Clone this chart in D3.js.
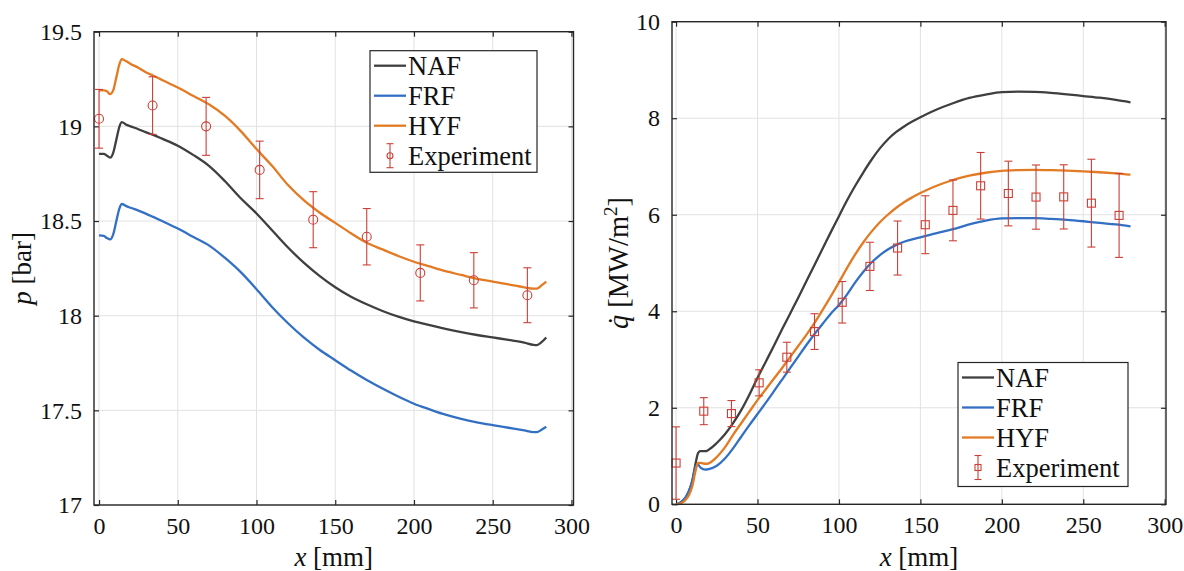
<!DOCTYPE html>
<html>
<head>
<meta charset="utf-8">
<script src="https://cdn.jsdelivr.net/npm/d3@7"></script>
<style>
  html, body { margin: 0; padding: 0; background: #fff; }
  svg { display: block; }
</style>
</head>
<body>
<svg id="chart" width="1184" height="571"></svg>
<script>
// ---------------- DATA ----------------
const xTicks = [0, 50, 100, 150, 200, 250, 300];
const pTicks = [17, 17.5, 18, 18.5, 19, 19.5];
const qTicks = [0, 2, 4, 6, 8, 10];
const seriesNames = ["NAF", "FRF", "HYF"];
const expName = "Experiment";

// Left panel: pressure p [bar]
const pX   = [0, 3, 5, 7, 9, 11, 13, 14.5, 17, 20, 25, 30, 34, 40, 50, 60, 70, 80, 90, 100, 110, 120, 130, 140, 150, 160, 170, 180, 190, 200, 210, 220, 230, 240, 250, 260, 270, 276, 278, 281, 284];
const pNAF = [18.855, 18.855, 18.845, 18.835, 18.86, 18.93, 19.0, 19.022, 19.01, 19.0, 18.985, 18.968, 18.956, 18.935, 18.898, 18.848, 18.79, 18.71, 18.62, 18.54, 18.45, 18.36, 18.28, 18.21, 18.15, 18.1, 18.06, 18.025, 17.995, 17.97, 17.95, 17.93, 17.913, 17.898, 17.885, 17.872, 17.858, 17.846, 17.845, 17.86, 17.885];
const pFRF = [18.424, 18.422, 18.41, 18.403, 18.43, 18.5, 18.568, 18.59, 18.58, 18.57, 18.555, 18.538, 18.523, 18.5, 18.46, 18.415, 18.37, 18.305, 18.23, 18.14, 18.045, 17.96, 17.885, 17.82, 17.765, 17.71, 17.66, 17.615, 17.573, 17.535, 17.505, 17.477, 17.455, 17.437, 17.422, 17.408, 17.394, 17.385, 17.385, 17.397, 17.413];
const pHYF = [19.19, 19.19, 19.185, 19.17, 19.19, 19.26, 19.33, 19.355, 19.345, 19.33, 19.31, 19.285, 19.27, 19.245, 19.205, 19.16, 19.115, 19.055, 18.975, 18.88, 18.79, 18.69, 18.61, 18.545, 18.49, 18.435, 18.385, 18.35, 18.315, 18.285, 18.26, 18.235, 18.215, 18.195, 18.18, 18.165, 18.15, 18.143, 18.143, 18.16, 18.18];
const pExpX   = [0, 34, 68, 102, 136, 170, 204, 238, 272];
const pExpY   = [19.04, 19.11, 19.0, 18.77, 18.507, 18.417, 18.226, 18.187, 18.108];
const pExpErr = [0.155, 0.152, 0.153, 0.152, 0.148, 0.149, 0.148, 0.146, 0.145];

// Right panel: heat flux q [MW/m^2]
const qX   = [0, 2, 4, 6, 8, 10, 12, 13.5, 15, 18, 20, 25, 30, 35, 40, 45, 50, 55, 60, 65, 70, 75, 80, 85, 90, 95, 100, 105, 110, 115, 120, 125, 130, 135, 140, 145, 150, 160, 170, 180, 190, 200, 210, 220, 230, 240, 250, 260, 270, 279];
const qNAF = [0, 0.02, 0.07, 0.15, 0.28, 0.5, 0.85, 1.06, 1.1, 1.1, 1.13, 1.27, 1.45, 1.68, 1.95, 2.27, 2.62, 2.95, 3.28, 3.62, 3.95, 4.28, 4.62, 4.96, 5.3, 5.64, 5.97, 6.3, 6.6, 6.88, 7.14, 7.37, 7.56, 7.71, 7.83, 7.93, 8.02, 8.18, 8.31, 8.42, 8.49, 8.54, 8.55, 8.545, 8.525, 8.495, 8.46, 8.425, 8.38, 8.33];
const qFRF = [0, 0.02, 0.07, 0.15, 0.28, 0.48, 0.78, 0.82, 0.76, 0.72, 0.73, 0.8, 0.95, 1.16, 1.4, 1.64, 1.87, 2.1, 2.34, 2.58, 2.82, 3.06, 3.3, 3.53, 3.74, 3.95, 4.13, 4.35, 4.6, 4.82, 5.01, 5.16, 5.28, 5.37, 5.44, 5.49, 5.53, 5.62, 5.7, 5.8, 5.88, 5.925, 5.93, 5.93, 5.915, 5.895, 5.865, 5.83, 5.8, 5.76];
const qHYF = [0, 0.01, 0.04, 0.1, 0.2, 0.38, 0.7, 0.86, 0.86, 0.84, 0.85, 0.98, 1.18, 1.44, 1.68, 1.92, 2.16, 2.38, 2.6, 2.82, 3.05, 3.28, 3.51, 3.76, 4.03, 4.31, 4.6, 4.9, 5.18, 5.43, 5.65, 5.84, 6.0, 6.14, 6.26, 6.36, 6.45, 6.6, 6.72, 6.81, 6.87, 6.91, 6.925, 6.93, 6.925, 6.915, 6.9, 6.88, 6.855, 6.83];
const qExpX   = [0, 17, 34, 51, 68, 85, 102, 119, 136, 153, 170, 187, 204, 221, 238, 255, 272];
const qExpY   = [0.855, 1.93, 1.88, 2.517, 3.048, 3.579, 4.186, 4.93, 5.31, 5.793, 6.09, 6.6, 6.44, 6.366, 6.37, 6.24, 5.986];
const qExpErr = [0.75, 0.28, 0.27, 0.27, 0.31, 0.37, 0.43, 0.5, 0.56, 0.6, 0.63, 0.69, 0.67, 0.665, 0.665, 0.91, 0.87];

// ---------------- STYLE ----------------
const colors = { NAF: "#3f3f3f", FRF: "#3370C4", HYF: "#E37A24", EXP: "#CC3F36" };
const axisColor = "#262626";
const gridColor = "#e2e2e2";
const FONT = "Liberation Serif";
const TXT = "#111111";

const svg = d3.select("#chart");

function drawPanel(cfg) {
  const g = svg.append("g");
  const x = d3.scaleLinear().domain(cfg.xDom).range([cfg.left, cfg.right]);
  const y = d3.scaleLinear().domain(cfg.yDom).range([cfg.bottom, cfg.top]);

  // grid
  g.append("g").selectAll("line").data(xTicks).join("line")
    .attr("x1", d => x(d)).attr("x2", d => x(d))
    .attr("y1", cfg.top).attr("y2", cfg.bottom)
    .attr("stroke", gridColor).attr("stroke-width", 1);
  g.append("g").selectAll("line").data(cfg.yTicks).join("line")
    .attr("x1", cfg.left).attr("x2", cfg.right)
    .attr("y1", d => y(d)).attr("y2", d => y(d))
    .attr("stroke", gridColor).attr("stroke-width", 1);

  // axes via d3 (ticks inside)
  const tl = 5;
  const ax = g.append("g").attr("transform", `translate(0,${cfg.bottom})`)
    .call(d3.axisBottom(x).tickValues(xTicks).tickSize(-tl).tickPadding(tl + 7).tickFormat(d3.format("d")));
  const axT = g.append("g").attr("transform", `translate(0,${cfg.top})`)
    .call(d3.axisTop(x).tickValues(xTicks).tickSize(-tl).tickFormat(""));
  const ay = g.append("g").attr("transform", `translate(${cfg.left},0)`)
    .call(d3.axisLeft(y).tickValues(cfg.yTicks).tickSize(-tl).tickPadding(tl + 7).tickFormat(d => d3.format("")(d)));
  const ayR = g.append("g").attr("transform", `translate(${cfg.right},0)`)
    .call(d3.axisRight(y).tickValues(cfg.yTicks).tickSize(-tl).tickFormat(""));
  [ax, axT, ay, ayR].forEach(a => {
    a.attr("font-family", FONT).attr("font-size", 24);
    a.select(".domain").remove();
    a.selectAll(".tick line").attr("stroke", axisColor).attr("stroke-width", 1.2);
    a.selectAll("text").attr("font-family", FONT).attr("font-size", 24).attr("fill", TXT);
  });

  // curves
  const line = d3.line().x(d => x(d[0])).y(d => y(d[1])).curve(d3.curveMonotoneX);
  const series = [["NAF", cfg.naf], ["FRF", cfg.frf], ["HYF", cfg.hyf]];
  series.forEach(([name, vals]) => {
    g.append("path").datum(cfg.xs.map((v, i) => [v, vals[i]]))
      .attr("d", line).attr("fill", "none")
      .attr("stroke", colors[name]).attr("stroke-width", 2.3)
      .attr("stroke-linejoin", "round");
  });

  // experiment error bars
  const ex = cfg.ex.map((v, i) => ({ x: v, y: cfg.ey[i], e: cfg.ee[i] }));
  const eg = g.append("g").attr("stroke", colors.EXP).attr("fill", "none").attr("stroke-width", 1.1);
  const cw = 4;
  eg.selectAll("line.v").data(ex).join("line").attr("class", "v")
    .attr("x1", d => x(d.x)).attr("x2", d => x(d.x))
    .attr("y1", d => y(d.y - d.e)).attr("y2", d => y(d.y + d.e));
  eg.selectAll("line.t").data(ex).join("line").attr("class", "t")
    .attr("x1", d => x(d.x) - cw).attr("x2", d => x(d.x) + cw)
    .attr("y1", d => y(d.y + d.e)).attr("y2", d => y(d.y + d.e));
  eg.selectAll("line.b").data(ex).join("line").attr("class", "b")
    .attr("x1", d => x(d.x) - cw).attr("x2", d => x(d.x) + cw)
    .attr("y1", d => y(d.y - d.e)).attr("y2", d => y(d.y - d.e));
  if (cfg.marker === "circle") {
    eg.selectAll("circle").data(ex).join("circle")
      .attr("cx", d => x(d.x)).attr("cy", d => y(d.y)).attr("r", 4.5);
  } else {
    eg.selectAll("rect").data(ex).join("rect")
      .attr("x", d => x(d.x) - 4).attr("y", d => y(d.y) - 4)
      .attr("width", 8).attr("height", 8);
  }

  // box
  g.append("rect").attr("x", cfg.left).attr("y", cfg.top)
    .attr("width", cfg.right - cfg.left).attr("height", cfg.bottom - cfg.top)
    .attr("fill", "none").attr("stroke", axisColor).attr("stroke-width", 1.4);

  // x label
  const xl = g.append("text").attr("x", (cfg.left + cfg.right) / 2).attr("y", 566)
    .attr("text-anchor", "middle").attr("font-size", 27).attr("font-family", FONT).attr("fill", TXT);
  xl.append("tspan").attr("font-style", "italic").text("x");
  xl.append("tspan").text(" [mm]");

  // y label
  const yl = g.append("text")
    .attr("transform", `translate(${cfg.ylabX},${(cfg.top + cfg.bottom) / 2}) rotate(-90)`)
    .attr("text-anchor", "middle").attr("font-size", cfg.ylabSize).attr("font-family", FONT).attr("fill", TXT);
  cfg.ylab(yl);

  // legend
  const L = cfg.legend;
  const lg = g.append("g");
  lg.append("rect").attr("x", L.x).attr("y", L.y).attr("width", L.w).attr("height", L.h)
    .attr("fill", "#fff").attr("stroke", axisColor).attr("stroke-width", 1.2);
  const rows = seriesNames.concat([expName]);
  rows.forEach((name, i) => {
    const cy = L.y + 15 + i * 30;
    const sx0 = L.x + 4, sx1 = L.x + 36;
    if (i < 3) {
      lg.append("line").attr("x1", sx0).attr("x2", sx1).attr("y1", cy).attr("y2", cy)
        .attr("stroke", colors[name]).attr("stroke-width", 2.3);
    } else {
      const mx = (sx0 + sx1) / 2;
      const eg2 = lg.append("g").attr("stroke", colors.EXP).attr("fill", "none").attr("stroke-width", 1.1);
      eg2.append("line").attr("x1", mx).attr("x2", mx).attr("y1", cy - 12).attr("y2", cy + 12);
      eg2.append("line").attr("x1", mx - 3.5).attr("x2", mx + 3.5).attr("y1", cy - 12).attr("y2", cy - 12);
      eg2.append("line").attr("x1", mx - 3.5).attr("x2", mx + 3.5).attr("y1", cy + 12).attr("y2", cy + 12);
      if (cfg.marker === "circle") eg2.append("circle").attr("cx", mx).attr("cy", cy).attr("r", 3);
      else eg2.append("rect").attr("x", mx - 3).attr("y", cy - 3).attr("width", 6).attr("height", 6);
    }
    lg.append("text").attr("x", sx1 + 2).attr("y", cy + 9).attr("font-size", 26.5)
      .attr("font-family", FONT).attr("fill", TXT).text(name);
  });
}

drawPanel({
  left: 94, right: 573.5, top: 31.7, bottom: 505,
  xDom: [-3.2, 301.3], yDom: [17, 19.5], yTicks: pTicks,
  xs: pX, naf: pNAF, frf: pFRF, hyf: pHYF,
  ex: pExpX, ey: pExpY, ee: pExpErr, marker: "circle",
  ylabX: 31, ylabSize: 27,
  ylab: t => { t.append("tspan").attr("font-style", "italic").text("p"); t.append("tspan").text(" [bar]"); },
  legend: { x: 370, y: 50.7, w: 167, h: 121.6 }
});

drawPanel({
  left: 672, right: 1166, top: 21.7, bottom: 504.3,
  xDom: [-2.5, 300.8], yDom: [0, 10], yTicks: qTicks,
  xs: qX, naf: qNAF, frf: qFRF, hyf: qHYF,
  ex: qExpX, ey: qExpY, ee: qExpErr, marker: "square",
  ylabX: 628, ylabSize: 28.5,
  ylab: t => {
    t.append("tspan").attr("font-style", "italic").text("q\u0307");
    t.append("tspan").text(" [MW/m");
    t.append("tspan").attr("font-size", 19).attr("dy", -11).text("2");
    t.append("tspan").attr("dy", 11).text("]");
  },
  legend: { x: 958, y: 362.5, w: 170, h: 124 }
});
</script>
</body>
</html>
